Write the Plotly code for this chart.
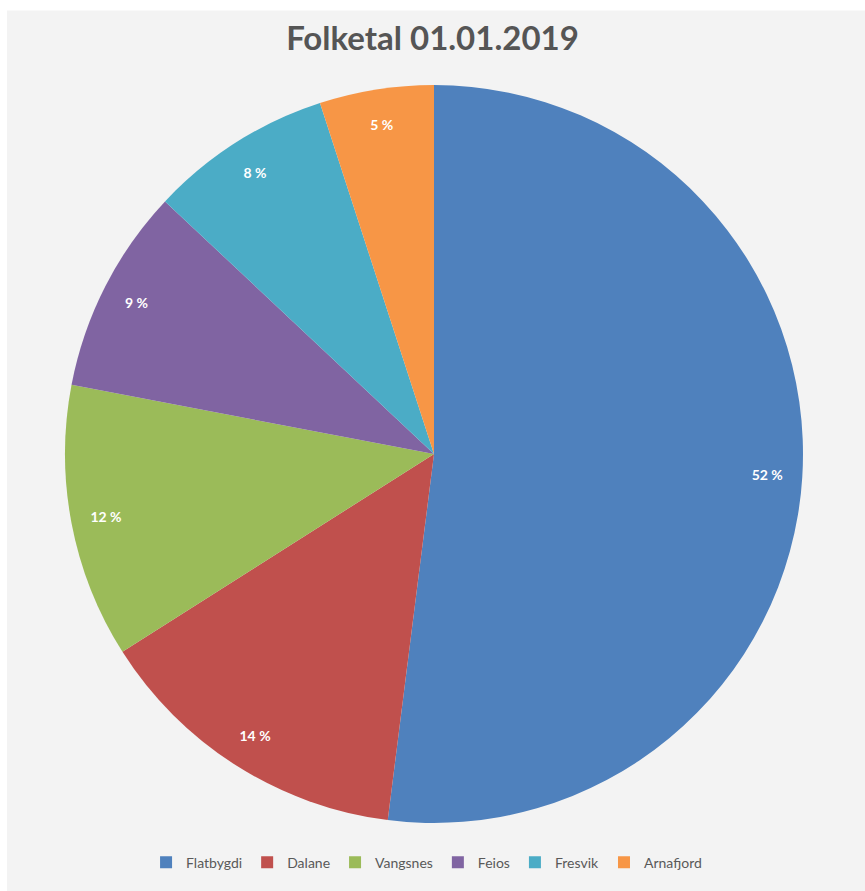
import plotly.graph_objects as go

categories = ["Flatbygdi", "Dalane", "Vangsnes", "Feios", "Fresvik", "Arnafjord"]
values = [52, 14, 12, 9, 8, 5]
colors = ["#4F81BD", "#C0504D", "#9BBB59", "#8064A2", "#4BACC6", "#F79646"]

W, H = 865, 891
L, R, T, B = 62, 59, 85, 62
pw = W - L - R
ph = H - T - B

fig = go.Figure()
fig.add_trace(go.Pie(
    labels=categories, values=values, sort=False, direction="clockwise", rotation=0,
    marker=dict(colors=colors, line=dict(width=0)),
    textinfo="none", hoverinfo="label+percent", showlegend=True,
))
fig.add_trace(go.Pie(
    labels=categories, values=values, sort=False, direction="clockwise", rotation=0,
    hole=0.81,
    marker=dict(colors=["rgba(0,0,0,0)"] * len(values), line=dict(width=0)),
    texttemplate="%{value} %", textposition="inside", insidetextorientation="horizontal",
    textfont=dict(family="Lato", size=14, color="white", weight="bold"),
    hoverinfo="skip", showlegend=False,
))

fig.add_shape(type="rect", xref="paper", yref="paper", layer="below",
              x0=(7 - L) / pw, x1=(W + 30 - L) / pw,
              y0=(-30 - B) / ph, y1=(H - 10 - B) / ph,
              fillcolor="#F3F3F3", line=dict(width=0))

fig.update_layout(
    width=W, height=H,
    margin=dict(l=L, r=R, t=T, b=B),
    paper_bgcolor="white", plot_bgcolor="white",
    title=dict(text="Folketal 01.01.2019", x=0.5, xanchor="center", y=1 - 38 / H, yanchor="middle",
               font=dict(family="Lato", size=33, color="#555555", weight="bold")),
    legend=dict(orientation="h", x=0.49, xanchor="center", y=-(869 - 829) / ph, yanchor="middle",
                bgcolor="rgba(0,0,0,0)",
                font=dict(family="Lato", size=14, color="#595959"), traceorder="normal",
                itemsizing="constant"),
)

fig.write_html("out.html", config={"displayModeBar": False},
               post_script="document.body.style.margin='0';")
